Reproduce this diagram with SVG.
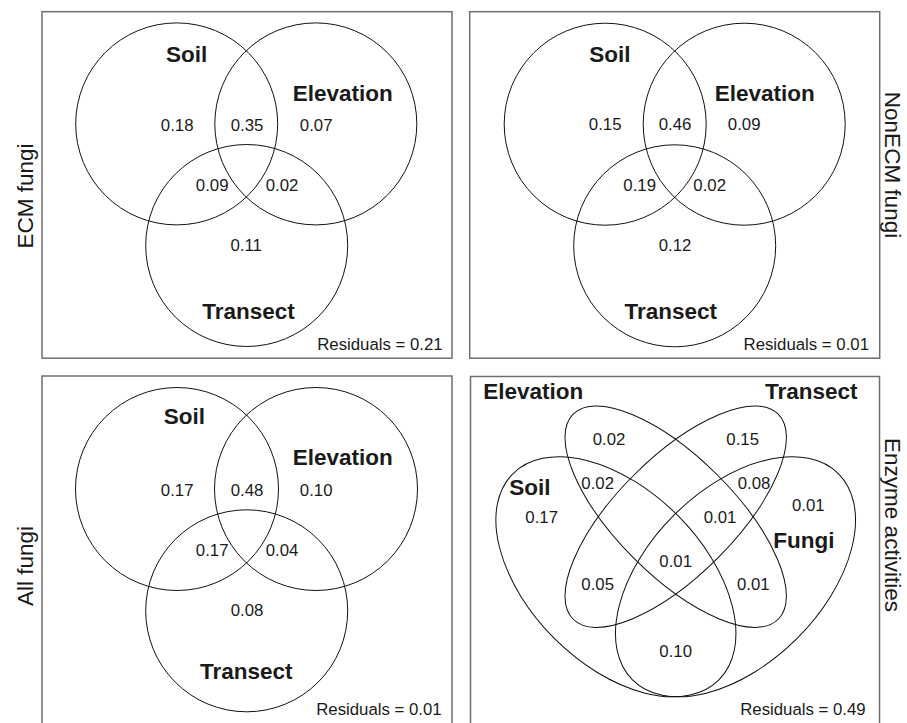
<svg xmlns="http://www.w3.org/2000/svg" width="907" height="723" viewBox="0 0 907 723">
<style>
.box{fill:none;stroke:#6e6e6e;stroke-width:1.5}
.c{fill:none;stroke:#111;stroke-width:1}
.lb{font-family:"Liberation Sans",Arial,sans-serif;font-weight:bold;font-size:22.5px;fill:#1a1a1a;text-anchor:middle}
.n{font-family:"Liberation Sans",Arial,sans-serif;font-size:16.8px;fill:#1a1a1a;text-anchor:middle}
.r{font-family:"Liberation Sans",Arial,sans-serif;font-size:16.8px;fill:#1a1a1a;text-anchor:end}
.side{font-family:"Liberation Sans",Arial,sans-serif;font-size:22.5px;fill:#1a1a1a;text-anchor:middle}
</style>
<rect width="907" height="723" fill="#fff"/>

<!-- Panel 1: ECM fungi -->
<g id="panel-ecm">
<rect class="box" x="42" y="11.7" width="410" height="346.5"/>
<text class="side" transform="translate(32.5,196) rotate(-90)">ECM fungi</text>
<g id="ecm-soil"><circle class="c" cx="176.7" cy="123.9" r="101"/><text class="lb" x="186.7" y="61.7">Soil</text></g>
<g id="ecm-elevation"><circle class="c" cx="315.8" cy="123.9" r="101"/><text class="lb" x="342.7" y="101">Elevation</text></g>
<g id="ecm-transect"><circle class="c" cx="246.7" cy="245.5" r="101"/><text class="lb" x="248.5" y="319.3">Transect</text></g>
<text class="n" x="177.2" y="130.5">0.18</text>
<text class="n" x="247" y="130.5">0.35</text>
<text class="n" x="316.2" y="130.5">0.07</text>
<text class="n" x="212.2" y="190.8">0.09</text>
<text class="n" x="282" y="190.8">0.02</text>
<text class="n" x="246.2" y="250.7">0.11</text>
<text class="r" x="442.7" y="350">Residuals = 0.21</text>
</g>

<!-- Panel 2: NonECM fungi -->
<g id="panel-nonecm">
<rect class="box" x="469.7" y="11.7" width="410" height="346.5"/>
<text class="side" transform="translate(884.5,165) rotate(90)">NonECM fungi</text>
<g id="nonecm-soil"><circle class="c" cx="605.2" cy="124.2" r="101"/><text class="lb" x="610" y="61.7">Soil</text></g>
<g id="nonecm-elevation"><circle class="c" cx="744.2" cy="124.2" r="101"/><text class="lb" x="764.7" y="101">Elevation</text></g>
<g id="nonecm-transect"><circle class="c" cx="674.7" cy="245.8" r="101"/><text class="lb" x="670.8" y="319.3">Transect</text></g>
<text class="n" x="605.2" y="130.3">0.15</text>
<text class="n" x="675" y="130.3">0.46</text>
<text class="n" x="744.2" y="130.3">0.09</text>
<text class="n" x="639.7" y="190.7">0.19</text>
<text class="n" x="709.7" y="190.7">0.02</text>
<text class="n" x="675" y="250.7">0.12</text>
<text class="r" x="869" y="350">Residuals = 0.01</text>
</g>

<!-- Panel 3: All fungi -->
<g id="panel-all">
<path class="box" d="M42,724 V376 H452 V724"/>
<text class="side" transform="translate(32.5,566) rotate(-90)">All fungi</text>
<g id="all-soil"><circle class="c" cx="177" cy="489" r="101.5"/><text class="lb" x="184.5" y="423.7">Soil</text></g>
<g id="all-elevation"><circle class="c" cx="316" cy="489" r="101.5"/><text class="lb" x="342.7" y="465.3">Elevation</text></g>
<g id="all-transect"><circle class="c" cx="246.7" cy="610.8" r="101"/><text class="lb" x="246.3" y="678.7">Transect</text></g>
<text class="n" x="177.2" y="496">0.17</text>
<text class="n" x="247" y="496">0.48</text>
<text class="n" x="316.2" y="496">0.10</text>
<text class="n" x="212.2" y="556.3">0.17</text>
<text class="n" x="282" y="556.3">0.04</text>
<text class="n" x="247" y="616.3">0.08</text>
<text class="r" x="441.7" y="715.3">Residuals = 0.01</text>
</g>

<!-- Panel 4: Enzyme activities -->
<g id="panel-enzyme">
<path class="box" d="M470.5,724 V376.5 H879.5 V724"/>
<text class="side" transform="translate(884.5,525) rotate(90)">Enzyme activities</text>
<g id="enz-soil"><ellipse class="c" cx="0" cy="0" rx="145.7" ry="87.1" transform="translate(615.9,576.8) rotate(45)"/><text class="lb" x="530" y="495">Soil</text></g>
<g id="enz-fungi"><ellipse class="c" cx="0" cy="0" rx="145.7" ry="87.1" transform="translate(735.5,576.8) rotate(-45)"/><text class="lb" x="803.8" y="548">Fungi</text></g>
<g id="enz-elevation"><ellipse class="c" cx="0" cy="0" rx="145" ry="59" transform="translate(675.7,516.7) rotate(45)"/><text class="lb" x="533.3" y="398.7">Elevation</text></g>
<g id="enz-transect"><ellipse class="c" cx="0" cy="0" rx="145" ry="59" transform="translate(675.7,516.7) rotate(-45)"/><text class="lb" x="811.3" y="398.7">Transect</text></g>
<text class="n" x="609" y="445">0.02</text>
<text class="n" x="742.7" y="445">0.15</text>
<text class="n" x="597.7" y="489.3">0.02</text>
<text class="n" x="754" y="489.3">0.08</text>
<text class="n" x="541.7" y="522.7">0.17</text>
<text class="n" x="808.3" y="511">0.01</text>
<text class="n" x="720" y="522.7">0.01</text>
<text class="n" x="675.7" y="567">0.01</text>
<text class="n" x="597.7" y="589.7">0.05</text>
<text class="n" x="753.3" y="589.7">0.01</text>
<text class="n" x="675.7" y="657">0.10</text>
<text class="r" x="865.7" y="714.7">Residuals = 0.49</text>
</g>
</svg>
